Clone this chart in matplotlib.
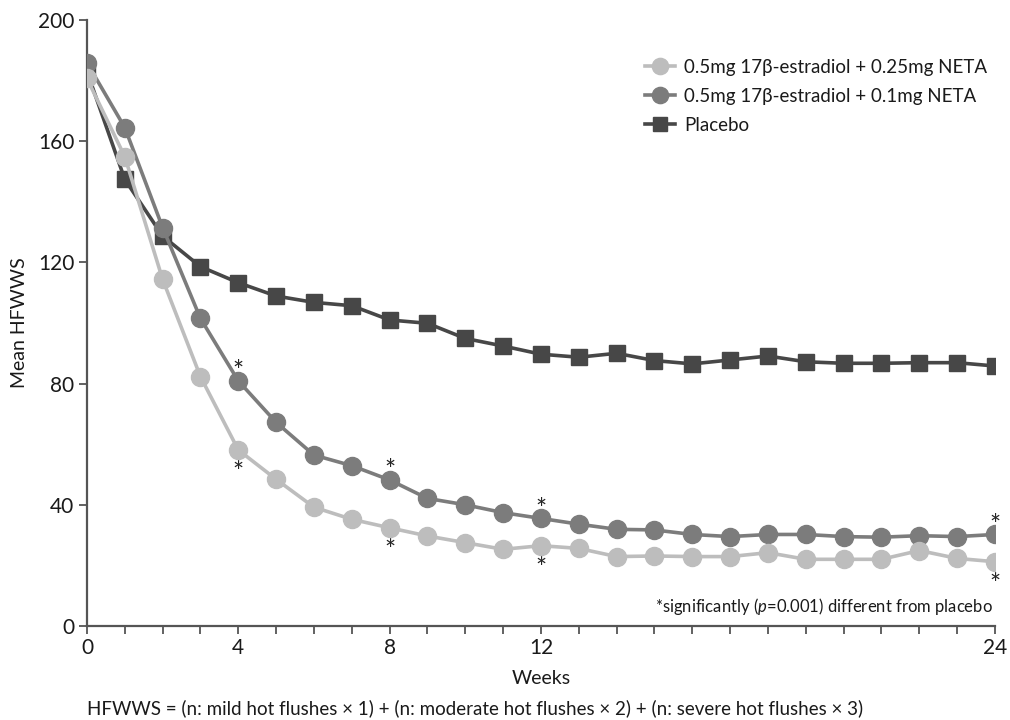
import matplotlib
matplotlib.use("Agg")
import matplotlib.pyplot as plt

plt.rcParams['font.family'] = ['Lato', 'DejaVu Sans']
plt.rcParams['mathtext.fontset'] = 'custom'
plt.rcParams['mathtext.it'] = 'Lato:italic'
plt.rcParams['mathtext.rm'] = 'Lato'

weeks = list(range(0, 25))
e2_025 = [180.7, 154.9, 114.4, 82.3, 58.1, 48.4, 39.2, 35.2, 32.4, 29.7, 27.5, 25.3, 26.5,
          25.6, 22.9, 23.1, 22.9, 22.9, 24.2, 22.0, 22.0, 22.0, 24.9, 22.3, 21.2]
e2_01 = [185.9, 164.5, 131.5, 101.5, 80.9, 67.2, 56.4, 52.9, 48.2, 42.1, 40.0, 37.4, 35.5,
         33.6, 31.9, 31.7, 30.2, 29.5, 30.2, 30.2, 29.5, 29.3, 29.8, 29.5, 30.2]
placebo = [183.0, 147.4, 128.7, 118.6, 113.3, 108.9, 106.8, 105.7, 101.0, 99.9, 94.9, 92.4, 89.7,
           88.7, 90.0, 87.6, 86.5, 87.8, 89.1, 87.2, 86.7, 86.7, 86.9, 86.9, 85.8]
sig_weeks = [4, 8, 12, 24]
labels = ["0.5mg 17\u03b2-estradiol + 0.25mg NETA",
          "0.5mg 17\u03b2-estradiol + 0.1mg NETA",
          "Placebo"]
xtick_labels = [0, 4, 8, 12, 24]
ytick_vals = [0, 40, 80, 120, 160, 200]

c_light = "#bdbdbd"
c_mid = "#7c7c7c"
c_dark = "#474747"
axis_c = "#555555"
txt_c = "#1a1a1a"

fig = plt.figure(figsize=(10.1, 7.2), dpi=100)
ax = fig.add_axes([0.0861, 0.1306, 0.8990, 0.8416])

lp, = ax.plot(weeks, placebo, color=c_dark, lw=2.6, marker='s', ms=11, mec=c_dark, mfc=c_dark, zorder=2)
l01, = ax.plot(weeks, e2_01, color=c_mid, lw=2.6, marker='o', ms=13, mec=c_mid, mfc=c_mid, zorder=3)
l025, = ax.plot(weeks, e2_025, color=c_light, lw=2.6, marker='o', ms=13, mec=c_light, mfc=c_light, zorder=4)

for w in sig_weeks:
    ax.annotate("*", (w, e2_01[w]), xytext=(0, -3), textcoords='offset points',
                ha='center', va='bottom', fontsize=19, color='#222222')
    ax.annotate("*", (w, e2_025[w]), xytext=(0, -8), textcoords='offset points',
                ha='center', va='top', fontsize=19, color='#222222')

ax.set_xlim(0, 24)
ax.set_ylim(0, 200)
ax.set_xticks(weeks)
ax.set_xticklabels([str(w) if w in xtick_labels else "" for w in weeks])
ax.set_yticks(ytick_vals)
ax.tick_params(axis='both', direction='out', length=6, width=1.3, color=axis_c,
               labelsize=15, labelcolor=txt_c, pad=3)

for s in ['top', 'right']:
    ax.spines[s].set_visible(False)
for s in ['left', 'bottom']:
    ax.spines[s].set_color(axis_c)
    ax.spines[s].set_linewidth(1.6)
for sp in ax.spines.values():
    sp.set_clip_on(False)

ax.set_ylabel("Mean HFWWS", fontsize=14, color=txt_c, labelpad=7)
ax.set_xlabel("Weeks", fontsize=14, color=txt_c, labelpad=8)

leg = ax.legend([l025, l01, lp], labels, loc='upper right', bbox_to_anchor=(1.0, 0.948),
                frameon=False, fontsize=13.5, handlelength=1.6, handletextpad=0.5,
                labelspacing=0.64, markerscale=0.9, borderaxespad=0.0)
for t in leg.get_texts():
    t.set_color(txt_c)

ax.text(0.998, 0.014, "*significantly ($\\it{p}$=0.001) different from placebo",
        transform=ax.transAxes, ha='right', va='bottom', fontsize=12, color=txt_c)

fig.text(0.47, 0.016,
         "HFWWS = (n: mild hot flushes \u00d7 1) + (n: moderate hot flushes \u00d7 2) + (n: severe hot flushes \u00d7 3)",
         ha='center', va='center', fontsize=13.5, color=txt_c)

fig.savefig("out.png", dpi=100, facecolor='white')
